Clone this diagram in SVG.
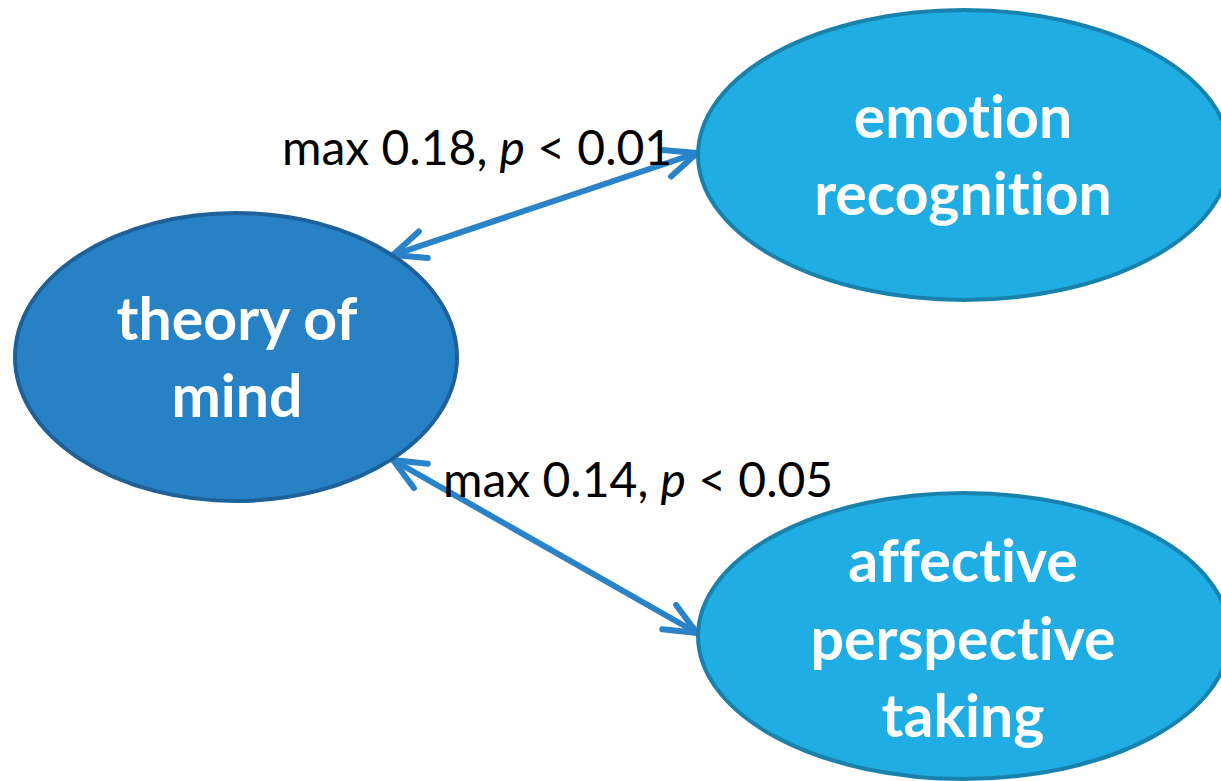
<svg xmlns="http://www.w3.org/2000/svg" width="1221" height="781" viewBox="0 0 1221 781">
<defs>
<style>
.node-dark{fill:#2781C5;stroke:#1F6098;stroke-width:4}
.node-light{fill:#1FADE3;stroke:#1982AC;stroke-width:4}
.nt{font-family:"Lato","Open Sans",sans-serif;font-weight:bold;font-size:59px;fill:#FFFFFF;text-anchor:middle;font-variant-ligatures:none;font-feature-settings:"liga" 0,"clig" 0,"dlig" 0}
.lbl{font-family:"Lato","Open Sans",sans-serif;font-size:48px;fill:#000000;font-variant-ligatures:none;font-feature-settings:"liga" 0,"clig" 0,"dlig" 0}
.conn{stroke:#2A82C8;stroke-width:6;fill:none;stroke-linecap:round}
</style>
<marker id="ah" markerUnits="userSpaceOnUse" orient="auto-start-reverse" refX="0" refY="0" markerWidth="80" markerHeight="80" viewBox="-40 -40 80 80" overflow="visible">
<path d="M -32 -14 L 0 0 L -32 14" fill="none" stroke="#2A82C8" stroke-width="6" stroke-linecap="round" stroke-linejoin="round"/>
</marker>
</defs>
<rect width="1221" height="781" fill="#FFFFFF"/>
<g id="connectors">
<line class="conn" x1="393" y1="255" x2="697" y2="153" marker-start="url(#ah)" marker-end="url(#ah)"/>
<line class="conn" x1="393" y1="460" x2="697" y2="633" marker-start="url(#ah)" marker-end="url(#ah)"/>
</g>
<g id="node-tom">
<ellipse class="node-dark" cx="236" cy="357" rx="221" ry="144"/>
<text class="nt" x="237" y="340">theory of</text>
<text class="nt" x="237" y="417">mind</text>
</g>
<g id="node-emotion">
<ellipse class="node-light" cx="964" cy="155" rx="266" ry="145"/>
<text class="nt" x="963" y="138">emotion</text>
<text class="nt" x="963" y="215">recognition</text>
</g>
<g id="node-affective">
<ellipse class="node-light" cx="964" cy="636" rx="266" ry="143"/>
<text class="nt" x="963" y="582">affective</text>
<text class="nt" x="963" y="660">perspective</text>
<text class="nt" x="963" y="737">taking</text>
</g>
<g id="labels">
<text class="lbl" x="282" y="165">max 0.18, <tspan font-style="italic">p</tspan> &lt; 0.01</text>
<text class="lbl" x="443" y="497">max 0.14, <tspan font-style="italic">p</tspan> &lt; 0.05</text>
</g>
</svg>
